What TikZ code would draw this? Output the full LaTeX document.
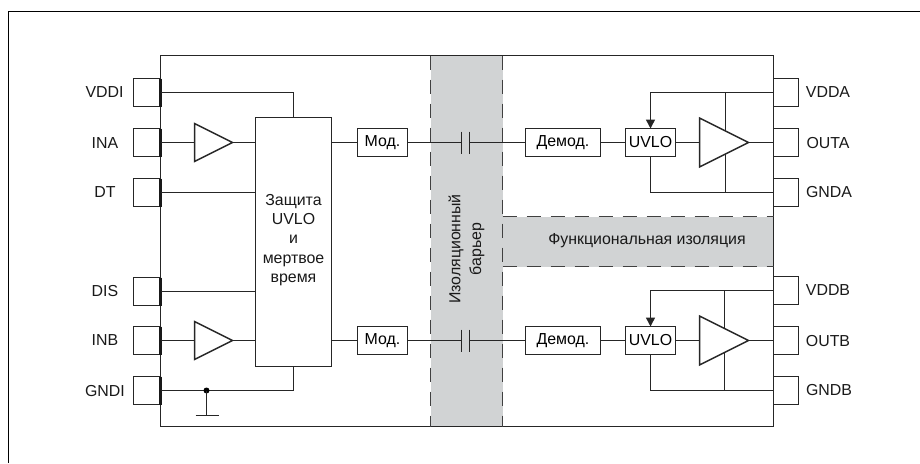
\documentclass[tikz,border=0pt]{standalone}
\usepackage{fontspec}
\setmainfont{Liberation Sans}
\usetikzlibrary{shapes.geometric,arrows.meta,calc}
\tikzset{
  wire/.style={line width=1.5pt,draw=black!85},
  boxn/.style={draw=black!85,line width=1.5pt,fill=white,inner sep=0pt,outer sep=0pt,rectangle,font=\fsz},
  pinn/.style={boxn,minimum width=27pt,minimum height=28pt},
  pinr/.style={boxn,minimum width=25pt,minimum height=28pt},
  modn/.style={boxn,minimum width=50pt,minimum height=28pt},
  demn/.style={boxn,minimum width=75pt,minimum height=28pt},
  uvn/.style={boxn,minimum width=50pt,minimum height=28pt},
  txt/.style={inner sep=0pt,outer sep=0pt,font=\fsz,text=black!90},
  tri/.style={draw=black!85,line width=1.5pt,fill=white,isosceles triangle,isosceles triangle stretches,shape border rotate=0,inner sep=0pt,outer sep=0pt,anchor=lower side},
  smalltri/.style={tri,minimum width=38pt,minimum height=38pt},
  bigtri/.style={tri,minimum width=49pt,minimum height=49pt},
  bardash/.style={line width=1.5pt,draw=black!75,dash pattern=on 14pt off 10pt},
  head/.style={-{Triangle[length=9pt,width=9pt]}}
}
\newcommand{\fsz}{\fontsize{15.9}{19.3}\selectfont}
\definecolor{bargrey}{HTML}{D1D3D4}
\begin{document}
\begin{tikzpicture}[x=1pt,y=-1pt]
\useasboundingbox (0,0) rectangle (920,463);
% outer frame
\coordinate (fa) at (8.5,463); \coordinate (fb) at (8.5,11.5); \coordinate (fc) at (920,11.5);
\draw[line width=1.6pt,draw=black] (fa) -- (fb) -- (fc);
% main body
\fill[bargrey] (430.5,55.5) rectangle (502.5,426.5);
\fill[bargrey] (502.5,216.5) rectangle (773.5,266.5);
\node[draw=black!85,line width=1.5pt,rectangle,inner sep=0pt,outer sep=0pt,minimum width=613pt,minimum height=371pt] (body) at (467,241) {};
\draw[bardash] (430.5,55.5) -- (430.5,426.5);
\draw[bardash] (502.5,55.5) -- (502.5,426.5);
\draw[bardash] (502.5,216.5) -- (773.5,216.5);
\draw[bardash] (502.5,266.5) -- (773.5,266.5);
\node[txt,rotate=90,align=center] (bartxt) at (466.5,249) {Изоляционный\\[1.5pt]барьер};
\node[txt] (functxt) at (647,241) {Функциональная изоляция};
% left pins
\node[pinn] (vddi) at (147,92.5) {};
\node[pinn] (ina) at (147,142.5) {};
\node[pinn] (dt) at (147,192.5) {};
\node[pinn] (dis) at (147,291.5) {};
\node[pinn] (inb) at (147,340.5) {};
\node[pinn] (gndi) at (147,390.5) {};
\foreach \p in {vddi,ina,dt,dis,inb,gndi}
  \draw[line width=2.2pt,draw=black!90] (\p.north east) -- (\p.south east);
\node[txt] (lvddi) at (104.5,92.5) {VDDI};
\node[txt] (lina) at (105,143) {INA};
\node[txt] (ldt) at (105,192.5) {DT};
\node[txt] (ldis) at (105,291) {DIS};
\node[txt] (linb) at (105,340.5) {INB};
\node[txt] (lgndi) at (105,391) {GNDI};
% right pins
\node[pinr] (vdda) at (786,92.5) {};
\node[pinr] (outa) at (786,142.5) {};
\node[pinr] (gnda) at (786,192.5) {};
\node[pinr] (vddb) at (786,290.5) {};
\node[pinr] (outb) at (786,340.5) {};
\node[pinr] (gndb) at (786,390.5) {};
\node[txt] (lvdda) at (828,92.5) {VDDA};
\node[txt] (louta) at (828,143) {OUTA};
\node[txt] (lgnda) at (829,192.5) {GNDA};
\node[txt] (lvddb) at (828,290.5) {VDDB};
\node[txt] (loutb) at (828,341) {OUTB};
\node[txt] (lgndb) at (829,390.5) {GNDB};
% control block
\node[boxn,minimum width=76pt,minimum height=249pt] (ctl) at (293.5,242) {};
\node[txt,align=center] (ctltxt) at (293.5,240) {Защита\\UVLO\\и\\мертвое\\время};
% buffers
\node[smalltri] (ta) at (194.5,142.5) {};
\node[smalltri] (tb) at (194.5,340.5) {};
\draw[wire] (ina.east) -- (ta.lower side);
\draw[wire] (inb.east) -- (inb.east -| tb.lower side);
\draw[wire] (ta.apex) -- (ta.apex -| ctl.west);
\draw[wire] (tb.apex) -- (tb.apex -| ctl.west);
\draw[wire] (dt.east) -- (dt.east -| ctl.west);
\draw[wire] (dis.east) -- (dis.east -| ctl.west);
\draw[wire] (vddi.east) -| (ctl.north);
\draw[wire] (gndi.east) -| (ctl.south);
% ground
\coordinate (gj) at (206.5,390.5);
\coordinate (gb) at (206.5,415.5);
\coordinate (gl) at (195.5,415.5);
\coordinate (gr) at (218.5,415.5);
\fill[black] (gj) circle (3pt);
\draw[wire] (gj) -- (gb);
\draw[wire] (gl) -- (gr);
% channel A
\node[modn] (moda) at (382.5,142.5) {Мод.};
\node[modn] (modb) at (382.5,340.5) {Мод.};
\draw[wire] (ctl.east |- moda.west) -- (moda.west);
\draw[wire] (ctl.east |- modb.west) -- (modb.west);
\node[demn] (dema) at (563,142.5) {Демод.};
\node[demn] (demb) at (563,340.5) {Демод.};
\node[uvn] (uva) at (650.5,142.5) {UVLO};
\node[uvn] (uvb) at (650.5,340.5) {UVLO};
\coordinate (cal) at (461.5,142.5); \coordinate (car) at (469.5,142.5);
\coordinate (cbl) at (461.5,340.5); \coordinate (cbr) at (469.5,340.5);
\draw[wire] (moda.east) -- (cal);
\draw[wire] (car) -- (dema.west);
\draw[wire] (modb.east) -- (cbl);
\draw[wire] (cbr) -- (demb.west);
\draw[wire] ($(cal)+(0,-11)$) -- ($(cal)+(0,11)$);
\draw[wire] ($(car)+(0,-11)$) -- ($(car)+(0,11)$);
\draw[wire] ($(cbl)+(0,-11)$) -- ($(cbl)+(0,11)$);
\draw[wire] ($(cbr)+(0,-11)$) -- ($(cbr)+(0,11)$);
\draw[wire] (dema.east) -- (uva.west);
\draw[wire] (demb.east) -- (uvb.west);
% supply rails A
\draw[wire,head] (vdda.west) -| (uva.north);
\draw[wire] (gnda.west) -| (uva.south);
\coordinate (ra) at (725.5,92.5); \coordinate (rb) at (725.5,192.5);
\draw[wire] (ra) -- (rb);
\node[bigtri] (da) at (699.5,142.5) {};
\draw[wire] (uva.east) -- (da.lower side);
\draw[wire] (da.apex) -- (outa.west);
% supply rails B
\draw[wire,head] (vddb.west) -| (uvb.north);
\draw[wire] (gndb.west) -| (uvb.south);
\coordinate (rc) at (724.5,290.5); \coordinate (rd) at (724.5,390.5);
\draw[wire] (rc) -- (rd);
\node[bigtri] (db) at (699.5,340.5) {};
\draw[wire] (uvb.east) -- (db.lower side);
\draw[wire] (db.apex) -- (outb.west);
\end{tikzpicture}
\end{document}
